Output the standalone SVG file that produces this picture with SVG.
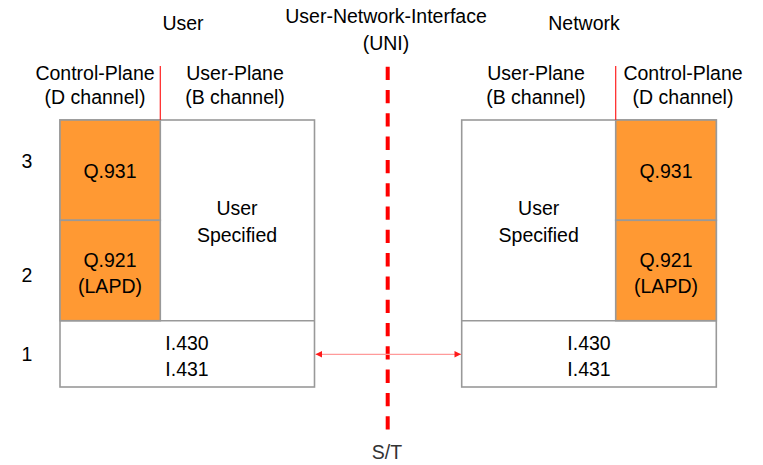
<svg xmlns="http://www.w3.org/2000/svg" width="763" height="465" viewBox="0 0 763 465">
<defs>
<style>
text{font-family:"Liberation Sans",Arial,sans-serif;font-size:19.5px;fill:#000;text-anchor:middle}
.box{fill:#fff;stroke:#999;stroke-width:1.6}
.ctl{fill:#FF9933;stroke:#999;stroke-width:1.6}
.sep{stroke:#ff2020;stroke-width:1.2}
</style>
<marker id="ah" viewBox="0 0 10 10" refX="10" refY="5" markerWidth="7" markerHeight="6.5" markerUnits="userSpaceOnUse" orient="auto-start-reverse">
<path d="M0,0 L10,5 L0,10 z" fill="#ff1a1a"/>
</marker>
</defs>
<rect width="763" height="465" fill="#fff"/>

<g id="headings">
<text x="183" y="30">User</text>
<text x="386" y="23">User-Network-Interface</text>
<text x="386" y="50">(UNI)</text>
<text x="584" y="30">Network</text>
<text x="95" y="80">Control-Plane</text>
<text x="95" y="104">(D channel)</text>
<text x="235" y="80">User-Plane</text>
<text x="235" y="104">(B channel)</text>
<text x="536" y="80">User-Plane</text>
<text x="536" y="104">(B channel)</text>
<text x="683" y="80">Control-Plane</text>
<text x="683" y="104">(D channel)</text>
</g>

<g id="levels">
<text x="27" y="168">3</text>
<text x="27" y="282">2</text>
<text x="27" y="361">1</text>
</g>

<g id="user-stack">
<rect class="box" x="60" y="120" width="254.5" height="267"/>
<rect class="ctl" x="60" y="120" width="100.3" height="100.3"/>
<rect class="ctl" x="60" y="220.3" width="100.3" height="100.4"/>
<line x1="60" y1="320.7" x2="314.5" y2="320.7" stroke="#999" stroke-width="1.6"/>
<line class="sep" x1="160.3" y1="66" x2="160.3" y2="120"/>
<text x="110" y="178">Q.931</text>
<text x="110" y="267">Q.921</text>
<text x="110" y="293">(LAPD)</text>
<text x="237" y="215">User</text>
<text x="237" y="242">Specified</text>
<text x="187" y="350">I.430</text>
<text x="187" y="376">I.431</text>
</g>

<g id="network-stack">
<rect class="box" x="461.7" y="120" width="254.6" height="267"/>
<rect class="ctl" x="615.7" y="120" width="100.6" height="100.3"/>
<rect class="ctl" x="615.7" y="220.3" width="100.6" height="100.4"/>
<line x1="461.7" y1="320.7" x2="716.3" y2="320.7" stroke="#999" stroke-width="1.6"/>
<line class="sep" x1="615.7" y1="66" x2="615.7" y2="120"/>
<text x="666" y="178">Q.931</text>
<text x="666" y="267">Q.921</text>
<text x="666" y="293">(LAPD)</text>
<text x="538.7" y="215">User</text>
<text x="538.7" y="242">Specified</text>
<text x="589" y="350">I.430</text>
<text x="589" y="376">I.431</text>
</g>

<g id="connectors">
<line x1="387.7" y1="66.7" x2="387.7" y2="431" stroke="#ff0000" stroke-width="4" stroke-dasharray="13.3 10"/>
<line x1="315.5" y1="354.3" x2="461" y2="354.3" stroke="#ff9a9a" stroke-width="1.3" marker-start="url(#ah)" marker-end="url(#ah)"/>
</g>

<g id="interface-label">
<text x="387" y="459" style="fill:#333">S/T</text>
</g>
</svg>
